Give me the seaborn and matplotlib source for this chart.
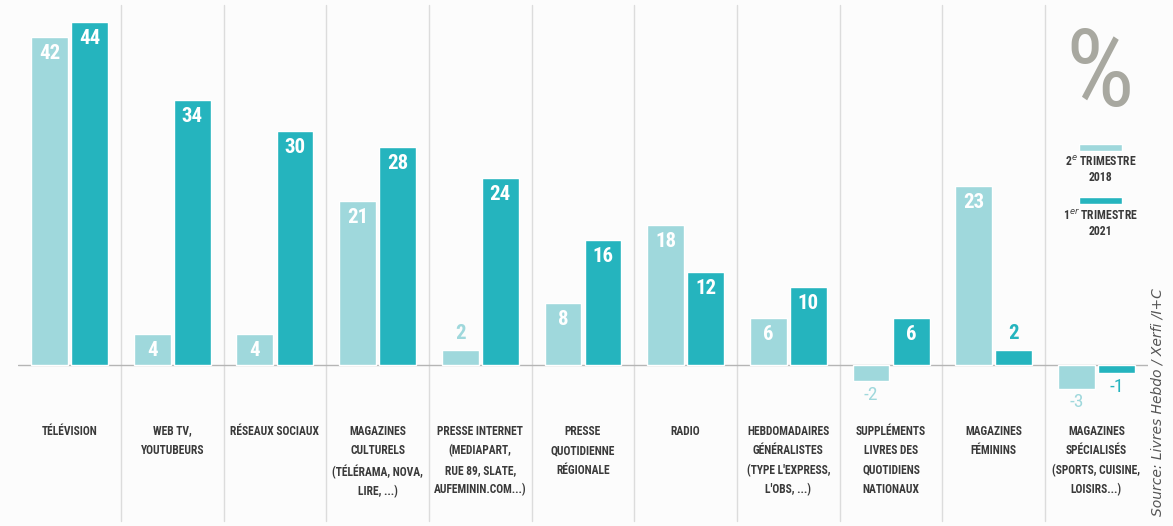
import pandas as pd
import numpy as np
import matplotlib
matplotlib.use("Agg")
import matplotlib.pyplot as plt
from matplotlib import font_manager
import seaborn as sns

sns.set_style("white")
plt.rcParams["font.family"] = ["DejaVu Sans"]

# pick a narrow face if one is installed
names = {f.name for f in font_manager.fontManager.ttflist}
narrow = None
for cand in ["Liberation Sans Narrow", "DejaVu Sans Condensed", "Roboto Condensed", "Open Sans Condensed"]:
    if cand in names:
        narrow = cand
        break
cond_family = narrow if narrow else "DejaVu Sans"
scale = 1.0 if narrow else 0.82

categories = [
    "TÉLÉVISION",
    "WEB TV,\nYOUTUBEURS",
    "RÉSEAUX SOCIAUX",
    "MAGAZINES\nCULTURELS\n(TÉLÉRAMA, NOVA,\nLIRE, ...)",
    "PRESSE INTERNET\n(MEDIAPART,\nRUE 89, SLATE,\nAUFEMININ.COM...)",
    "PRESSE\nQUOTIDIENNE\nRÉGIONALE",
    "RADIO",
    "HEBDOMADAIRES\nGÉNÉRALISTES\n(TYPE L'EXPRESS,\nL'OBS, ...)",
    "SUPPLÉMENTS\nLIVRES DES\nQUOTIDIENS\nNATIONAUX",
    "MAGAZINES\nFÉMININS",
    "MAGAZINES\nSPÉCIALISÉS\n(SPORTS, CUISINE,\nLOISIRS...)",
]
values_2018 = [42, 4, 4, 21, 2, 8, 18, 6, -2, 23, -3]
values_2021 = [44, 34, 30, 28, 24, 16, 12, 10, 6, 2, -1]
periods = ["T2 2018", "T1 2021"]
legend_labels = ["2$^{e}$ TRIMESTRE\n2018", "1$^{er}$ TRIMESTRE\n2021"]

light = "#9fd8dc"
dark = "#25b4be"
palette = {periods[0]: light, periods[1]: dark}

df = pd.DataFrame({
    "cat": list(range(len(categories))) * 2,
    "period": [periods[0]] * len(categories) + [periods[1]] * len(categories),
    "value": values_2018 + values_2021,
})

fig = plt.figure(figsize=(11.73, 5.26), dpi=100)
fig.patch.set_facecolor("#fcfcfc")
ax = fig.add_axes([0.0155, 0.0, 0.963, 1.0])
ax.set_facecolor("#fcfcfc")

sns.barplot(data=df, x="cat", y="value", hue="period", hue_order=periods,
            palette=palette, width=0.78, gap=0.08, saturation=1,
            legend=False, errorbar=None, ax=ax, order=list(range(len(categories))))

ax.set_xlim(-0.5, len(categories) - 0.5)
ax.set_ylim(-20.6, 46.8)
for s in ax.spines.values():
    s.set_visible(False)
ax.set_xticks([])
ax.set_yticks([])
ax.set_xlabel("")
ax.set_ylabel("")

# column separators and zero line
for i in range(1, len(categories)):
    ax.axvline(i - 0.5, ymin=0.01, ymax=0.99, color="#dcdcdc", lw=1, zorder=0)
ax.axhline(0, color="#b5b5b5", lw=1, zorder=0.5)

# value labels
for container, vals, col in zip(ax.containers, [values_2018, values_2021], [light, dark]):
    for bar, v in zip(container, vals):
        x = bar.get_x() + bar.get_width() / 2
        if v >= 4:
            ax.text(x, v - 0.9, str(v), ha="center", va="top", color="white",
                    fontsize=15 * scale, fontweight="bold", family=cond_family)
        elif v > 0:
            ax.text(x, v + 0.9, str(v), ha="center", va="bottom", color=col,
                    fontsize=15 * scale, fontweight="bold", family=cond_family)
        else:
            ax.text(x, v - 0.6, str(v), ha="center", va="top", color=col,
                    fontsize=14 * scale, family=cond_family)

# category labels
for i, c in enumerate(categories):
    ax.text(i, -7.6, c, ha="center", va="top", fontsize=8.3 * scale, fontweight="bold",
            color="#3a3a3a", linespacing=1.65, family=cond_family)

# legend block in last column
lx = len(categories) - 1
ax.text(lx + 0.03, 43.6, "%", ha="center", va="top", fontsize=78, color="#a8a8a0",
        family=cond_family)
for k, (lab, col) in enumerate(zip(legend_labels, [light, dark])):
    ytop = 27.5 - k * 6.8
    ax.bar(lx + 0.04, 0.8, bottom=ytop, width=0.42, color=col)
    ax.text(lx + 0.04, ytop - 0.6, lab, ha="center", va="top", fontsize=8.5 * scale,
            fontweight="bold", color="#3a3a3a", linespacing=1.2, family=cond_family)

fig.text(0.987, 0.235, "Source: Livres Hebdo / Xerfi /I+C", rotation=90,
         ha="center", va="center", fontsize=10, style="italic", color="#555555")

fig.savefig("out.png", dpi=100, facecolor=fig.get_facecolor())
